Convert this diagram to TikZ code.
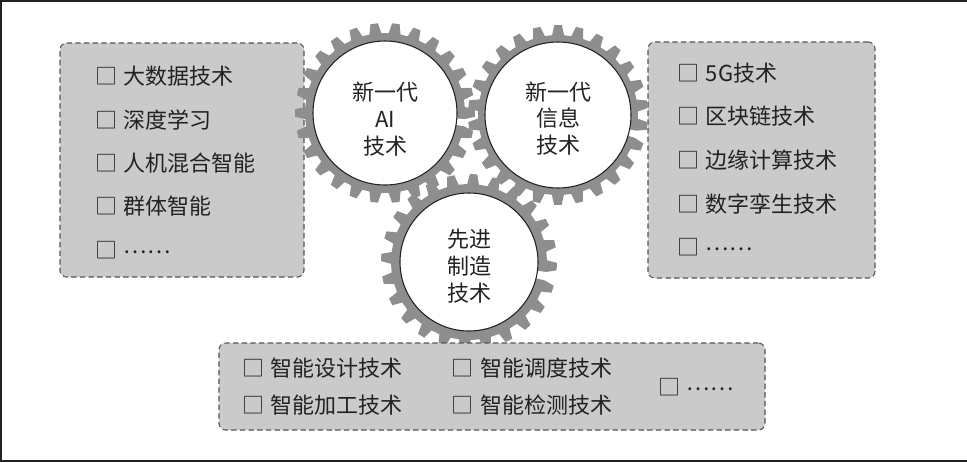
\documentclass[tikz,border=0pt]{standalone}
\usepackage{fontspec}
\setmainfont{Noto Sans CJK SC}
\usepackage{tikz}
\usetikzlibrary{positioning}

\definecolor{gearGray}{HTML}{8E8E8E}
\definecolor{boxGray}{HTML}{CACACA}
\definecolor{lineGray}{HTML}{555555}
\definecolor{inkGray}{HTML}{222222}

\newcommand{\chk}{□\hspace{5pt}}
\newcommand{\more}{\raisebox{4pt}{……}}
% center, root radius, tip radius, teeth, offset
\newcommand{\gearring}[5]{%
  \fill[gearGray, shift={(#1)}] (0,0)
    \foreach \k [evaluate=\k as \a using #5+\k*360/#4] in {1,...,#4} {
      -- (\a-4.3:#2) -- (\a-2.4:#3) -- (\a+2.4:#3) -- (\a+4.3:#2)
    } -- cycle;}

\begin{document}
\begin{tikzpicture}[x=0.75pt, y=-0.75pt, node distance=12.25pt and 31.7pt,
    listbox/.style={draw=lineGray, dash pattern=on 4pt off 2.5pt, line width=0.8pt,
      fill=boxGray, rounded corners=5pt, inner sep=0pt},
    item/.style={text=inkGray, font=\fontsize{16.5}{20}\selectfont, text width=125pt,
      align=left, inner sep=0pt, minimum height=20pt},
    hub/.style={circle, draw=inkGray, line width=0.8pt, fill=white, inner sep=0pt},
    hubtext/.style={align=center, text=inkGray, font=\fontsize{16.5}{20}\selectfont}]
    \useasboundingbox (0,0) rectangle (967,462);

    % Frame
    \draw[inkGray, line width=1.6pt] (967,1) -- (1,1) -- (1,461) -- (967,461);

    % Boxes
    \node[listbox, minimum width=183pt, minimum height=175.5pt] (aibox) at (182,160) {};
    \node[listbox, minimum width=170.25pt, minimum height=177pt] (infobox) at (761.5,160) {};

    % Gears
    \coordinate (gAI) at (385,113);
    \coordinate (gInfo) at (558,115);
    \coordinate (gMfg) at (469,262);
    \gearring{gAI}{80}{90}{26}{0}
    \gearring{gInfo}{80}{90}{26}{7}
    \gearring{gMfg}{78}{88}{24}{3}
    \node[hub, minimum size=108pt] (ai) at (gAI) {};
    \node[hub, minimum size=109.5pt] (info) at (gInfo) {};
    \node[hub, minimum size=103.5pt] (mfg) at (gMfg) {};
    \node[hubtext] (aitext) at ([yshift=-4.5pt]ai.center) {新一代\\AI\\技术};
    \node[hubtext] (infotext) at ([yshift=-2.5pt]info.center) {新一代\\信息\\技术};
    \node[hubtext] (mfgtext) at ([yshift=-3pt]mfg.center) {先进\\制造\\技术};

    \node[listbox, minimum width=409.5pt, minimum height=65.25pt] (mfgbox) at (492,386.5) {};

    % Items
    \node[item, anchor=west] (ai1) at (95,76) {\chk 大数据技术};
    \node[item, below=of ai1] (ai2) {\chk 深度学习};
    \node[item, below=of ai2] (ai3) {\chk 人机混合智能};
    \node[item, below=of ai3] (ai4) {\chk 群体智能};
    \node[item, below=of ai4] (ai5) {\chk \more};

    \node[item, anchor=west] (info1) at (677,73) {\chk 5G技术};
    \node[item, below=of info1] (info2) {\chk 区块链技术};
    \node[item, below=of info2] (info3) {\chk 边缘计算技术};
    \node[item, below=of info3] (info4) {\chk 数字孪生技术};
    \node[item, below=of info4] (info5) {\chk \more};

    \node[item, anchor=west] (mfg1) at (242,368) {\chk 智能设计技术};
    \node[item, below=7.75pt of mfg1] (mfg2) {\chk 智能加工技术};
    \node[item, right=of mfg1] (mfg3) {\chk 智能调度技术};
    \node[item, below=7.75pt of mfg3] (mfg4) {\chk 智能检测技术};
    \node[item, anchor=west] (mfg5) at (658,387) {\chk \more};
\end{tikzpicture}
\end{document}
